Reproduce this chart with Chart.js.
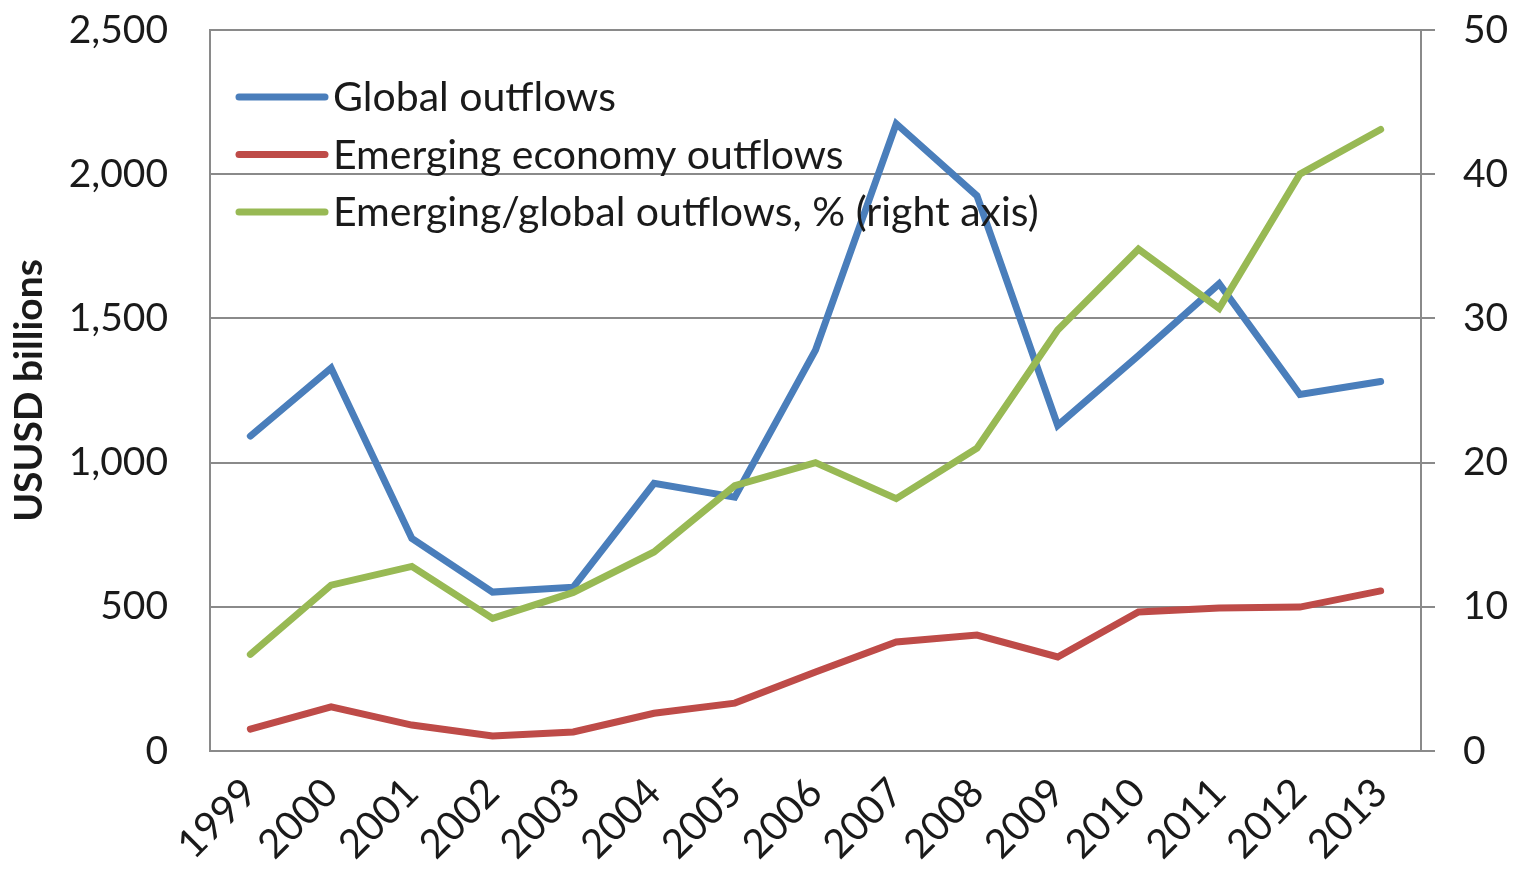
<!DOCTYPE html>
<html>
<head>
<meta charset="utf-8">
<script src="https://cdn.jsdelivr.net/npm/chart.js@4/dist/chart.umd.min.js"></script>
<style>
  html, body { margin: 0; padding: 0; background: #fff; }
  #wrap { width: 1516px; height: 874px; }
</style>
</head>
<body>
<div id="wrap"><canvas id="c" width="1516" height="874"></canvas></div>
<script>
// Years on the category axis
const years = ['1999','2000','2001','2002','2003','2004','2005','2006','2007','2008','2009','2010','2011','2012','2013'];

// FDI outflows, USD billions
const globalOutflows   = [1092, 1328, 737, 551, 568, 928, 880, 1390, 2175, 1925, 1129, 1371, 1620, 1236, 1281];
const emergingOutflows = [76, 153, 90, 52, 66, 131, 166, 274, 378, 402, 326, 482, 496, 499, 555];

// Emerging share of global outflows, %
const emergingShare = [6.7, 11.5, 12.8, 9.2, 11.0, 13.8, 18.4, 20.0, 17.5, 21.0, 29.2, 34.8, 30.7, 40.0, 43.1];

// Axis ticks
const leftTicks  = [0, 500, 1000, 1500, 2000, 2500];
const rightTicks = [0, 10, 20, 30, 40, 50];

const seriesNames = ['Global outflows', 'Emerging economy outflows', 'Emerging/global outflows, % (right axis)'];
const seriesColors = ['#4A7EBB', '#BE4B48', '#98B954'];

const FONT = 'Lato, "Open Sans", sans-serif';
const TEXT = '#1a1a1a';
const GRID = '#8a8a8a';
const TICK_SIZE = 39;

// Legend drawn inside the plot, top-left, as line swatches with labels
const insideLegend = {
  id: 'insideLegend',
  afterDatasetsDraw(chart) {
    const { ctx, chartArea } = chart;
    ctx.save();
    ctx.font = '41px ' + FONT;
    ctx.textBaseline = 'middle';
    ctx.textAlign = 'left';
    seriesNames.forEach((name, i) => {
      const y = chartArea.top + 67 + i * 57.5;
      const x0 = chartArea.left + 29;
      ctx.strokeStyle = seriesColors[i];
      ctx.lineWidth = 7;
      ctx.lineCap = 'round';
      ctx.beginPath();
      ctx.moveTo(x0, y);
      ctx.lineTo(x0 + 86, y);
      ctx.stroke();
      ctx.fillStyle = TEXT;
      ctx.fillText(name, x0 + 94, y + 1);
    });
    ctx.restore();
  }
};

const fmt = v => v.toLocaleString('en-US');
const noVerticalPad = scale => { scale.paddingTop = 0; scale.paddingBottom = 0; };

new Chart(document.getElementById('c'), {
  type: 'line',
  data: {
    labels: years,
    datasets: [
      { label: seriesNames[0], data: globalOutflows, yAxisID: 'y', borderColor: seriesColors[0], order: 2 },
      { label: seriesNames[1], data: emergingOutflows, yAxisID: 'y', borderColor: seriesColors[1], order: 1 },
      { label: seriesNames[2], data: emergingShare, yAxisID: 'y1', borderColor: seriesColors[2], order: 0 }
    ]
  },
  options: {
    responsive: false,
    animation: false,
    devicePixelRatio: 1,
    layout: { padding: { top: 30, left: 0, right: 0, bottom: 0 } },
    elements: {
      line: { borderWidth: 7, tension: 0, borderCapStyle: 'round', borderJoinStyle: 'miter', fill: false },
      point: { radius: 0, hoverRadius: 0 }
    },
    plugins: { legend: { display: false }, tooltip: { enabled: false } },
    scales: {
      x: {
        offset: true,
        grid: { display: false, drawTicks: false },
        border: { display: true, color: GRID, width: 2 },
        ticks: {
          color: TEXT, font: { family: FONT, size: 40 },
          maxRotation: 45, minRotation: 45, padding: 18, autoSkip: false
        },
        afterFit(scale) { scale.height = 123; scale.paddingLeft = 0; scale.paddingRight = 0; }
      },
      y: {
        position: 'left',
        min: 0, max: 2500,
        afterBuildTicks(scale) { scale.ticks = leftTicks.map(v => ({ value: v })); },
        grid: { color: GRID, lineWidth: 2, drawTicks: false },
        border: { display: true, color: GRID, width: 2 },
        ticks: { color: TEXT, font: { family: FONT, size: TICK_SIZE }, padding: 42, callback: v => fmt(v) },
        title: {
          display: true, text: 'USUSD billions', color: TEXT,
          font: { family: FONT, size: 39, weight: 'bold' }, padding: { top: 6, bottom: 0 }
        },
        afterFit(scale) { scale.width = 210; noVerticalPad(scale); }
      },
      y1: {
        position: 'right',
        min: 0, max: 50,
        afterBuildTicks(scale) { scale.ticks = rightTicks.map(v => ({ value: v })); },
        grid: { drawOnChartArea: false, color: GRID, lineWidth: 2, tickLength: 14 },
        border: { display: true, color: GRID, width: 2 },
        ticks: { color: TEXT, font: { family: FONT, size: TICK_SIZE }, padding: 28 },
        afterFit(scale) { scale.width = 95; noVerticalPad(scale); }
      }
    }
  },
  plugins: [insideLegend]
});
</script>
</body>
</html>
